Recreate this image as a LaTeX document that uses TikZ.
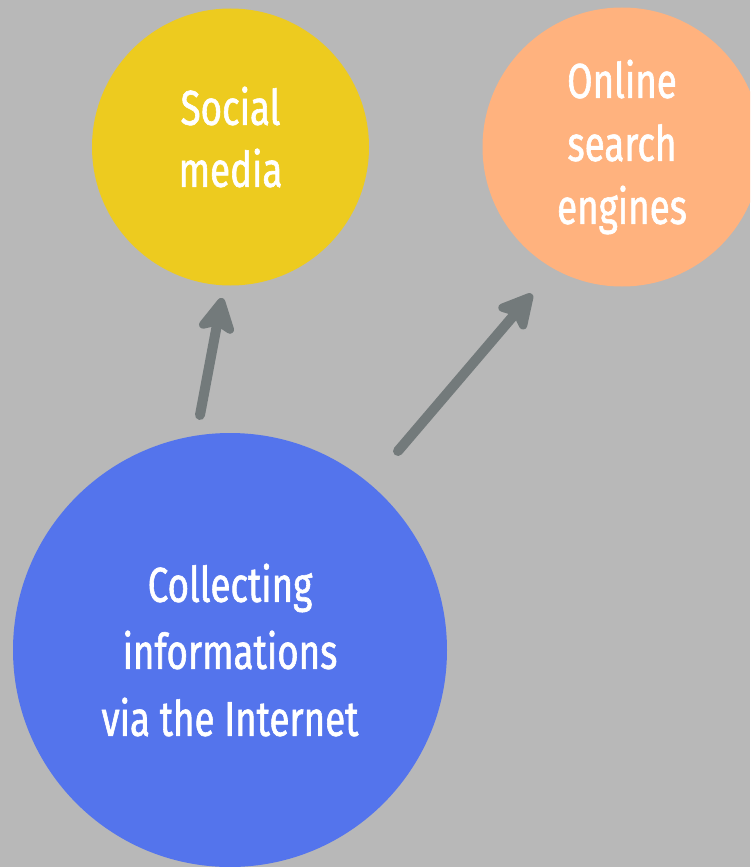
\documentclass[tikz,border=0pt]{standalone}
\usepackage{fontspec}
\usetikzlibrary{arrows.meta}
\newfontfamily\condfont[FakeStretch=0.75,FakeBold=1.2]{Fira Sans}
\definecolor{bg}{HTML}{B8B8B8}
\definecolor{yel}{HTML}{EDCB1F}
\definecolor{ora}{HTML}{FFB27E}
\definecolor{blu}{HTML}{5474EC}
\definecolor{arr}{HTML}{737A7B}
\tikzset{
  bubble/.style={circle, inner sep=0pt},
  lbl/.style={inner sep=0pt, text=white, align=center},
  conn/.style={draw=arr, line width=10pt, line cap=round,
    -{Stealth[length=42pt,width=44pt,inset=9pt,round]}}
}
\begin{document}
\begin{tikzpicture}[x=1pt,y=-1pt]
\useasboundingbox (0,0) rectangle (750,867);
\fill[bg] (0,0) rectangle (750,867);
\begin{scope}
\clip (0,0) rectangle (750,867);
\node[bubble, fill=yel, minimum size=277pt] (social) at (230.5,147) {};
\node[bubble, fill=ora, minimum size=279pt] (search) at (622,147) {};
\node[bubble, fill=blu, minimum size=434pt] (internet) at (230,650) {};
\end{scope}
\node[lbl, font=\condfont\fontsize{49}{62}\selectfont] (socialtxt)
  at ([yshift=10pt]social.center) {Social\\media};
\node[lbl, font=\condfont\fontsize{49}{63}\selectfont] (searchtxt)
  at (search.center) {Online\\search\\engines};
\node[lbl, font=\condfont\fontsize{49}{67}\selectfont] (internettxt)
  at (internet.center) {Collecting\\informations\\via the Internet};
\coordinate (s1) at (200,415);
\coordinate (e1) at (222,298);
\coordinate (s2) at (398,451);
\coordinate (e2) at (532,294);
\draw[conn] (s1) -- (e1);
\draw[conn] (s2) -- (e2);
\end{tikzpicture}
\end{document}
